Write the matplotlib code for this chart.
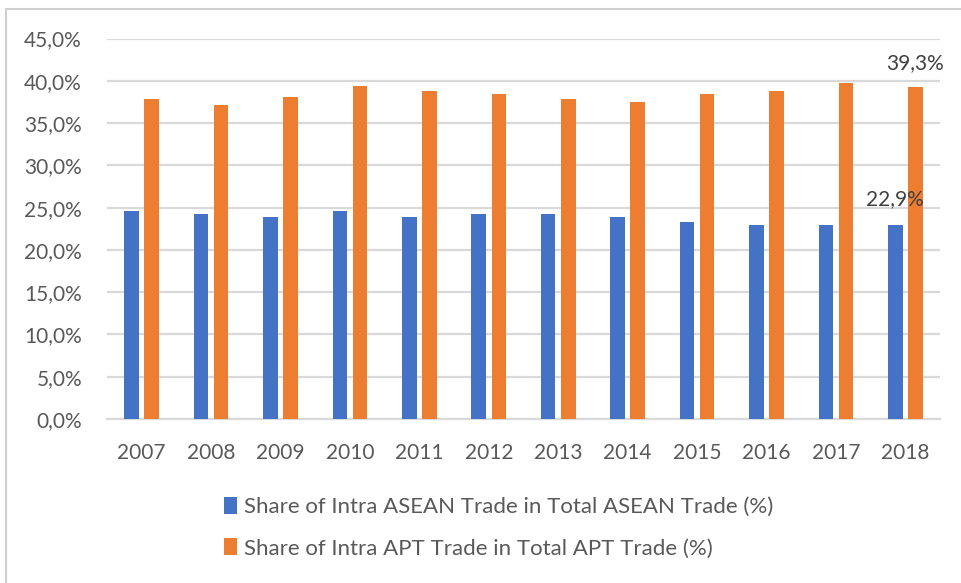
import matplotlib
matplotlib.use("Agg")
import matplotlib.pyplot as plt
from matplotlib.patches import Patch, Rectangle

years = ["2007", "2008", "2009", "2010", "2011", "2012",
         "2013", "2014", "2015", "2016", "2017", "2018"]
asean_share = [24.6, 24.2, 23.9, 24.6, 23.9, 24.2, 24.2, 23.9, 23.3, 23.0, 22.9, 22.9]
apt_share = [37.8, 37.1, 38.1, 39.4, 38.8, 38.4, 37.8, 37.5, 38.4, 38.8, 39.7, 39.3]
series_labels = ["Share of Intra ASEAN Trade in Total ASEAN Trade (%)",
                 "Share of Intra APT Trade in Total APT Trade (%)"]
yticks = [0, 5, 10, 15, 20, 25, 30, 35, 40, 45]
ytick_labels = ["0,0%", "5,0%", "10,0%", "15,0%", "20,0%", "25,0%",
                "30,0%", "35,0%", "40,0%", "45,0%"]

BLUE = "#4472C4"
ORANGE = "#ED7D31"
GRID = "#D9D9D9"
TXT = "#595959"

plt.rcParams['font.family'] = ['Lato', 'DejaVu Sans']

W, H = 962, 583
fig = plt.figure(figsize=(W / 100, H / 100), dpi=100)

# outer chart border
fig.patches.append(Rectangle((6 / W, -0.05), 1.1, 1 - 9 / H + 0.05,
                             transform=fig.transFigure, fill=False,
                             edgecolor="#D0D0D0", linewidth=1.5))

ax = fig.add_axes([107 / W, 1 - 419 / H, (940 - 107) / W, (419 - 38.5) / H])

x = list(range(len(years)))
bw = 0.21
off = 0.145
ax.bar([i - off for i in x], asean_share, width=bw, color=BLUE, zorder=3)
ax.bar([i + off for i in x], apt_share, width=bw, color=ORANGE, zorder=3)

ax.set_xlim(-0.5, len(years) - 0.5)
ax.set_ylim(0, 45)
ax.set_yticks(yticks)
ax.set_yticklabels(ytick_labels)
ax.set_xticks(x)
ax.set_xticklabels(years)
ax.tick_params(axis='both', length=0, labelsize=15, labelcolor=TXT)
ax.tick_params(axis='x', pad=17)
ax.tick_params(axis='y', pad=18)

ax.yaxis.grid(True, color=GRID, linewidth=1.6, zorder=0)
for s in ["top", "right", "left"]:
    ax.spines[s].set_visible(False)
ax.spines["bottom"].set_color(GRID)
ax.spines["bottom"].set_linewidth(1.6)
ax.spines["bottom"].set_zorder(1)

# data labels on last year
last = len(years) - 1
ax.annotate(f"{asean_share[last]:.1f}%".replace(".", ","), (last - off, asean_share[last]),
            xytext=(0, 12), textcoords="offset points", ha="center", va="bottom",
            fontsize=15, color="#404040")
ax.annotate(f"{apt_share[last]:.1f}%".replace(".", ","), (last + off, apt_share[last]),
            xytext=(0, 10), textcoords="offset points", ha="center", va="bottom",
            fontsize=15, color="#404040")

handles = [Patch(facecolor=BLUE), Patch(facecolor=ORANGE)]
fig.legend(handles, series_labels, loc="upper left",
           bbox_to_anchor=(224 / W, 1 - 497 / H), frameon=False,
           fontsize=16, labelcolor=TXT, handlelength=0.6, handleheight=0.8,
           handletextpad=0.3, labelspacing=0.95, borderpad=0, borderaxespad=0)

fig.savefig("out.png", dpi=100)
